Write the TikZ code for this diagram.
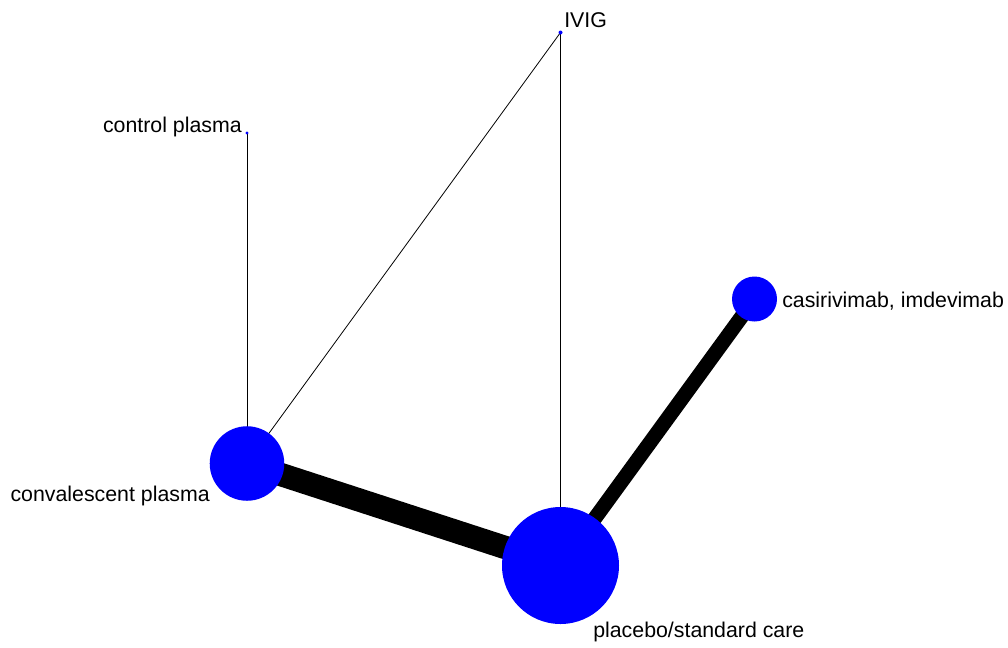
\documentclass[tikz,border=0pt]{standalone}
\usepackage{fontspec}
\setmainfont{Liberation Sans}
\usetikzlibrary{backgrounds}
\definecolor{NodeBlue}{RGB}{0,0,255}
\tikzset{
  trt/.style={circle, fill=NodeBlue, draw=none, inner sep=0pt, minimum size=#1},
  lbl/.style={inner sep=0pt, font=\fontsize{16}{19}\selectfont},
  edg/.style={line width=#1, color=black},
}

\begin{document}
\begin{tikzpicture}[x=0.75pt, y=-0.75pt]
  \useasboundingbox (0,0) rectangle (1008,647);

  % Treatments
  \node[trt=3pt]     (ivig)  at (560.5,32.5) {};
  \node[trt=2.5pt]   (ctrl)  at (247,133) {};
  \node[trt=33.75pt] (casi)  at (754.5,299) {};
  \node[trt=55.9pt]  (conv)  at (247,463.5) {};
  \node[trt=87.75pt] (plac)  at (560.5,565.5) {};

  % Labels
  \node[lbl, anchor=base west] (ivigl) at (564,27)  {IVIG};
  \node[lbl, anchor=base east] (ctrll) at (242,132) {control plasma};
  \node[lbl, anchor=base west] (casil) at (782,307) {casirivimab, imdevimab};
  \node[lbl, anchor=base east] (convl) at (210,501) {convalescent plasma};
  \node[lbl, anchor=base west] (placl) at (593,637) {placebo/standard care};

  % Comparisons
  \begin{scope}[on background layer]
    \draw[edg=0.6pt]  (ctrl.center) -- (conv.center);
    \draw[edg=0.6pt]  (ivig.center) -- (conv.center);
    \draw[edg=0.6pt]  (ivig.center) -- (plac.center);
    \draw[edg=17.5pt] (conv.center) -- (plac.center);
    \draw[edg=11pt]   (casi.center) -- (plac.center);
  \end{scope}

\end{tikzpicture}
\end{document}
